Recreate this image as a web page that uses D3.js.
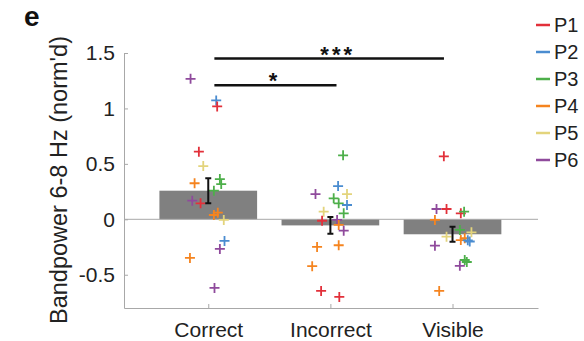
<!DOCTYPE html>
<html><head><meta charset="utf-8">
<script src="https://cdn.jsdelivr.net/npm/d3@7/dist/d3.min.js"></script>
<style>html,body{margin:0;padding:0;background:#fff;}svg{display:block;font-family:"Liberation Sans",Arial,sans-serif;}</style>
</head><body><svg id="c" width="584" height="341"></svg>
<script>
const categories = ["Correct","Incorrect","Visible"];
const participants = ["P1","P2","P3","P4","P5","P6"];
const colors = ["#e2303a","#4a8cd0","#4daf4a","#f5841f","#e3d47c","#8f4a9c"];
const barMeans = [0.258, -0.055, -0.135];
const barSem = [0.113, 0.075, 0.067];
const yTicks = [-0.5, 0, 0.5, 1, 1.5];
// points: [participant index, x jitter (category units), value]
const correctPts = [[5,-0.145,1.267],[1,0.065,1.072],[0,0.073,1.018],[0,-0.077,0.61],[4,-0.041,0.48],[3,-0.112,0.325],[2,0.095,0.363],[2,0.106,0.318],[2,0.046,0.258],[5,-0.131,0.168],[0,-0.063,0.144],[3,0.046,0.039],[3,0.078,0.06],[4,0.127,-0.006],[1,0.133,-0.195],[5,0.095,-0.267],[3,-0.15,-0.348],[5,0.051,-0.619]];
const incorrectPts = [[2,0.104,0.577],[1,0.063,0.3],[5,-0.122,0.228],[4,0.136,0.228],[2,0.027,0.189],[2,0.068,0.144],[1,0.136,0.129],[2,0.109,0.054],[4,-0.055,0.069],[0,-0.068,-0.013],[5,0.055,-0.006],[3,0.068,-0.051],[5,0.109,-0.103],[3,0.068,-0.234],[3,-0.109,-0.249],[3,-0.149,-0.423],[0,-0.076,-0.646],[0,0.073,-0.7]];
const visiblePts = [[0,-0.071,0.568],[5,-0.131,0.093],[0,-0.049,0.093],[0,0.068,0.054],[2,0.095,0.069],[3,-0.144,-0.006],[2,0.06,-0.096],[4,0.155,-0.117],[4,-0.049,-0.157],[3,0.1,-0.171],[3,0.068,-0.187],[1,0.141,-0.2],[1,0.125,-0.19],[5,-0.144,-0.238],[2,0.1,-0.367],[2,0.117,-0.385],[5,0.06,-0.42],[3,-0.109,-0.646]];
const pointSets = [correctPts, incorrectPts, visiblePts];
const sigBars = [{from:1.05,to:2.93,y:1.45,label:"***",tx:2.06},{from:1.05,to:2.05,y:1.21,label:"*",tx:1.53}];

const svg = d3.select("#c");
const x = d3.scaleLinear().domain([0.31,3.7]).range([124,538]);
const y = d3.scaleLinear().domain([-0.8,1.5]).range([308,53]);
const axisCol = "#a8a8a8", textCol = "#222";

// bars
svg.selectAll("rect.bar").data(barMeans).enter().append("rect")
  .attr("x",(d,i)=>x(i+1-0.4)).attr("width",x(1.4)-x(0.6))
  .attr("y",d=>y(Math.max(0,d))).attr("height",d=>Math.abs(y(d)-y(0)))
  .attr("fill","#808080");
// zero line
svg.append("line").attr("x1",x(0.31)).attr("x2",x(3.7)).attr("y1",y(0)).attr("y2",y(0))
  .attr("stroke",axisCol).attr("stroke-width",1);

// axes
const yAxis = d3.axisLeft(y).tickValues(yTicks).tickFormat(d=>d===0?"0":String(d)).tickSizeInner(-4).tickSizeOuter(0).tickPadding(9);
const gy = svg.append("g").attr("transform",`translate(${x(0.31)},0)`).call(yAxis);
gy.select(".domain").attr("stroke",axisCol);
gy.selectAll(".tick line").attr("stroke",axisCol);
gy.selectAll("text").attr("font-size",21).attr("fill",textCol).attr("font-family","Liberation Sans, Arial, sans-serif");

const xAxis = d3.axisBottom(x).tickValues([1,2,3]).tickFormat(d=>categories[d-1]).tickSizeInner(-4).tickSizeOuter(0).tickPadding(14);
const gx = svg.append("g").attr("transform",`translate(0,${y(-0.8)})`).call(xAxis);
gx.select(".domain").attr("stroke",axisCol);
gx.selectAll(".tick line").attr("stroke",axisCol);
gx.selectAll("text").attr("font-size",21).attr("fill",textCol).attr("font-family","Liberation Sans, Arial, sans-serif");

// points (crosses)
const cs = 5;
pointSets.forEach((pts,ci)=>{
  const g = svg.append("g");
  pts.forEach(p=>{
    const cx = x(ci+1+p[1]), cy = y(p[2]);
    g.append("path").attr("d",`M${cx-cs},${cy}H${cx+cs}M${cx},${cy-cs}V${cy+cs}`)
      .attr("stroke",colors[p[0]]).attr("stroke-width",1.8).attr("fill","none");
  });
});

// error bars
barMeans.forEach((m,i)=>{
  const cx = x(i+1), cw = 3;
  svg.append("path").attr("d",`M${cx},${y(m+barSem[i])}V${y(m-barSem[i])}M${cx-cw},${y(m+barSem[i])}H${cx+cw}M${cx-cw},${y(m-barSem[i])}H${cx+cw}`)
    .attr("stroke","#111").attr("stroke-width",2).attr("fill","none");
});

// significance
sigBars.forEach(s=>{
  svg.append("line").attr("x1",x(s.from)).attr("x2",x(s.to)).attr("y1",y(s.y)).attr("y2",y(s.y))
    .attr("stroke","#111").attr("stroke-width",2.5);
  svg.append("text").attr("x",x(s.tx)).attr("y",y(s.y)+3).attr("text-anchor","middle")
    .attr("font-size",22).attr("font-weight","bold").attr("letter-spacing",s.label.length>1?3:0)
    .attr("fill","#111").text(s.label);
});

// y label
svg.append("text").attr("transform",`translate(67,180) rotate(-90)`).attr("text-anchor","middle")
  .attr("font-size",23.5).attr("fill",textCol).text("Bandpower 6-8 Hz (norm'd)");
// panel letter
svg.append("text").attr("x",24).attr("y",26).attr("font-size",28).attr("font-weight","bold").attr("fill","#111").text("e");

// legend
const lg = svg.append("g");
participants.forEach((p,i)=>{
  const ly = 25 + i*27;
  lg.append("line").attr("x1",536).attr("x2",550).attr("y1",ly).attr("y2",ly).attr("stroke",colors[i]).attr("stroke-width",2.5);
  lg.append("text").attr("x",554).attr("y",ly+7).attr("font-size",20).attr("fill",textCol).text(p);
});
</script></body></html>
